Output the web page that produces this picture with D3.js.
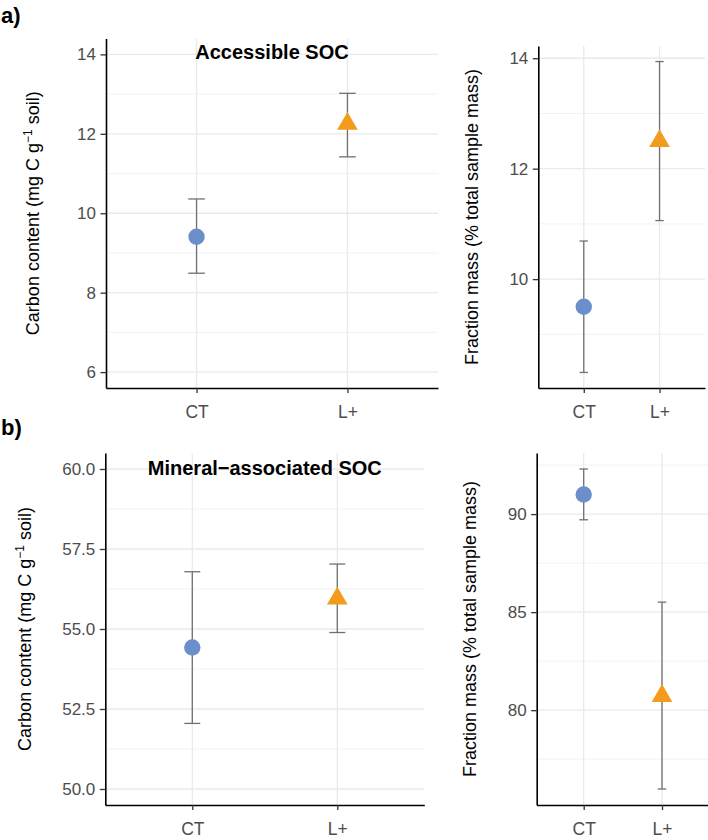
<!DOCTYPE html>
<html><head><meta charset="utf-8">
<script src="https://cdn.jsdelivr.net/npm/d3@7"></script>
<style>
body{margin:0;background:#fff}
svg{display:block}
text{font-family:"Liberation Sans",Arial,Helvetica,sans-serif}
</style>
</head><body>
<svg id="c" width="708" height="840"></svg>
<script>
// ---------- data ----------
const categories = ["CT", "L+"];

const accCarbonMean = [9.41, 12.25];
const accCarbonLow  = [8.49, 11.42];
const accCarbonHigh = [10.36, 13.02];

const accMassMean = [9.50, 12.50];
const accMassLow  = [8.31, 11.06];
const accMassHigh = [10.69, 13.94];

const minCarbonMean = [54.42, 55.95];
const minCarbonLow  = [52.05, 54.89];
const minCarbonHigh = [56.79, 57.03];

const minMassMean = [91.0, 80.72];
const minMassLow  = [89.71, 75.98];
const minMassHigh = [92.30, 85.51];

const accCarbonTicks = [6, 8, 10, 12, 14];
const accMassTicks   = [10, 12, 14];
const minCarbonTicks = [50, 52.5, 55, 57.5, 60];
const minMassTicks   = [80, 85, 90];

const accCarbonLimits = [6, 14];
const minCarbonLimits = [50, 60];

const panelTitles = ["Accessible SOC", "Mineral\u2212associated SOC"];
const panelTags = ["a)", "b)"];

// ---------- styles ----------
const colBlue = "#6A8FCB";
const colOrange = "#F39B1D";
const colErr = "#707070";
const colGrid = "#EAEAEA";
const colMinor = "#F0F0F0";

const svg = d3.select("#c");

function panel(o) {
  const g = svg.append("g");
  const x = d3.scalePoint().domain(categories).range([o.left, o.right]).padding(0.6);
  const lim = o.limits || [d3.min(o.low), d3.max(o.high)];
  const span = lim[1] - lim[0];
  const y = d3.scaleLinear()
    .domain([lim[0] - 0.05 * span, lim[1] + 0.05 * span])
    .range([o.bottom, o.top]);
  const [d0, d1] = y.domain();

  // minor grid
  const st = o.ticks[1] - o.ticks[0];
  const minor = [];
  for (let t = o.ticks[0] - st / 2; t <= d1; t += st) if (t >= d0) minor.push(t);
  g.selectAll(".mn").data(minor).join("line")
    .attr("x1", o.left).attr("x2", o.right)
    .attr("y1", d => y(d)).attr("y2", d => y(d))
    .attr("stroke", colMinor).attr("stroke-width", 0.9);
  // major grid
  g.selectAll(".mj").data(o.ticks).join("line")
    .attr("x1", o.left).attr("x2", o.right)
    .attr("y1", d => y(d)).attr("y2", d => y(d))
    .attr("stroke", colGrid).attr("stroke-width", 1.3);
  g.selectAll(".vx").data(categories).join("line")
    .attr("x1", d => x(d)).attr("x2", d => x(d))
    .attr("y1", o.top).attr("y2", o.bottom)
    .attr("stroke", colGrid).attr("stroke-width", 1.3);

  // error bars
  const cap = x.step() * 0.055;
  const idx = categories.map((c, i) => i);
  const eb = g.selectAll(".eb").data(idx).join("g");
  eb.append("line")
    .attr("x1", i => x(categories[i])).attr("x2", i => x(categories[i]))
    .attr("y1", i => y(o.low[i])).attr("y2", i => y(o.high[i]));
  eb.append("line")
    .attr("x1", i => x(categories[i]) - cap).attr("x2", i => x(categories[i]) + cap)
    .attr("y1", i => y(o.high[i])).attr("y2", i => y(o.high[i]));
  eb.append("line")
    .attr("x1", i => x(categories[i]) - cap).attr("x2", i => x(categories[i]) + cap)
    .attr("y1", i => y(o.low[i])).attr("y2", i => y(o.low[i]));
  eb.selectAll("line").attr("stroke", colErr).attr("stroke-width", 1.3);

  // points
  g.append("circle")
    .attr("cx", x(categories[0])).attr("cy", y(o.mean[0]))
    .attr("r", 8.2).attr("fill", colBlue);
  g.append("path")
    .attr("d", d3.symbol(d3.symbolTriangle, 185)())
    .attr("transform", `translate(${x(categories[1])},${y(o.mean[1])})`)
    .attr("fill", colOrange);

  // axes
  const ya = g.append("g").attr("transform", `translate(${o.left},0)`)
    .call(d3.axisLeft(y).tickValues(o.ticks).tickSize(5.5).tickSizeOuter(0)
      .tickPadding(4.5).tickFormat(o.fmt));
  ya.select(".domain").attr("stroke", "#000").attr("stroke-width", 1.6);
  ya.selectAll(".tick line").attr("stroke", "#333").attr("stroke-width", 1.3);
  ya.selectAll(".tick text").attr("fill", "#4D4D4D").style("font-size", "17px");

  const xa = g.append("g").attr("transform", `translate(0,${o.bottom})`)
    .call(d3.axisBottom(x).tickSize(5).tickSizeOuter(0));
  xa.select(".domain").attr("stroke", "#000").attr("stroke-width", 1.6);
  xa.selectAll(".tick line").attr("stroke", "#333").attr("stroke-width", 1.3);
  xa.selectAll(".tick text").attr("fill", "#4D4D4D").style("font-size", "17.5px")
    .attr("y", 29.5).attr("dy", 0);

  // y title
  const yt = svg.append("text")
    .attr("transform", `translate(${o.titleX},${(o.top + o.bottom) / 2}) rotate(-90)`)
    .attr("text-anchor", "middle").style("font-size", "18px").attr("fill", "#000");
  if (o.carbon) {
    yt.append("tspan").text("Carbon content (mg C g");
    yt.append("tspan").text("\u22121").style("font-size", "12px").attr("dy", -7);
    yt.append("tspan").text(" soil)").attr("dy", 7);
  } else {
    yt.text("Fraction mass (% total sample mass)");
  }

  if (o.title) {
    svg.append("text").attr("x", (o.left + o.right) / 2).attr("y", o.titleY)
      .attr("text-anchor", "middle").style("font-size", "20px").style("font-weight", "bold")
      .attr("fill", "#000").text(o.title);
  }
}

const fmtInt = d3.format("d");
const fmt1 = d3.format(".1f");

panel({left: 106, right: 438, top: 38.5, bottom: 388, mean: accCarbonMean, low: accCarbonLow,
  high: accCarbonHigh, ticks: accCarbonTicks, limits: accCarbonLimits, fmt: fmtInt,
  carbon: true, titleX: 39, title: panelTitles[0], titleY: 58.5});
panel({left: 538.3, right: 705, top: 46, bottom: 388, mean: accMassMean, low: accMassLow,
  high: accMassHigh, ticks: accMassTicks, fmt: fmtInt, carbon: false, titleX: 478});
panel({left: 105.3, right: 424.3, top: 453, bottom: 805, mean: minCarbonMean, low: minCarbonLow,
  high: minCarbonHigh, ticks: minCarbonTicks, limits: minCarbonLimits, fmt: fmt1,
  carbon: true, titleX: 31, title: panelTitles[1], titleY: 475});
panel({left: 536.7, right: 709, top: 453, bottom: 805, mean: minMassMean, low: minMassLow,
  high: minMassHigh, ticks: minMassTicks, fmt: fmtInt, carbon: false, titleX: 476});

svg.selectAll(".tag").data(panelTags).join("text")
  .attr("x", 1).attr("y", (d, i) => i === 0 ? 23 : 435)
  .style("font-size", "22px").style("font-weight", "bold").attr("fill", "#000")
  .text(d => d);
</script>
</body></html>
